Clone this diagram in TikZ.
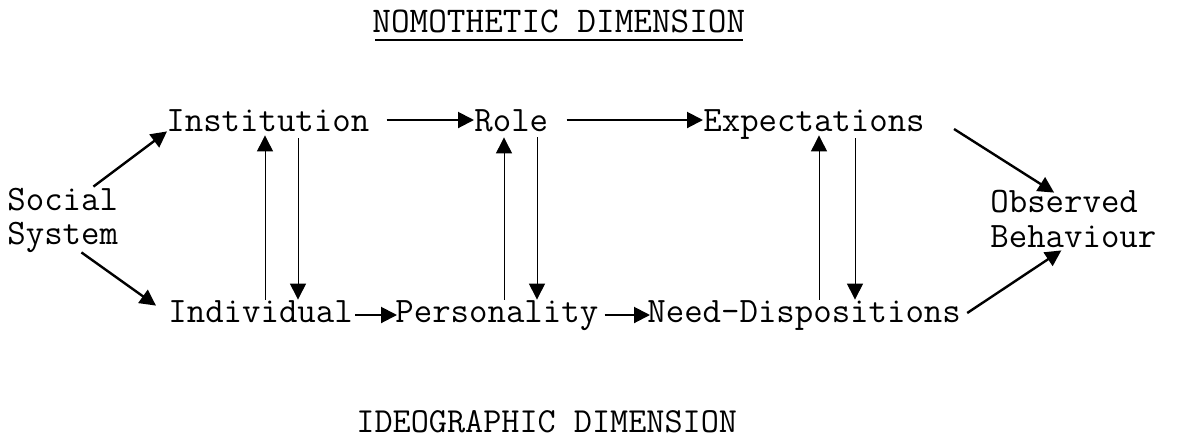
\documentclass[tikz,border=0pt]{standalone}
\usepackage{fontspec}
\usetikzlibrary{arrows.meta,calc}

\begin{document}
\begin{tikzpicture}[x=0.5pt,y=-0.5pt,
  lbl/.style={inner sep=0pt, anchor=base west, text height=11pt, text depth=0pt,
              font=\ttfamily\fontsize{17.9}{18}\selectfont},
  head/.style={-{Triangle[length=8pt,width=8pt]}},
  diag/.style={head, line width=1.2pt},
  horiz/.style={head, line width=1pt},
  vert/.style={head, line width=0.5pt}]

\fill[white] (0,0) rectangle (1180,441);
\useasboundingbox (0,0) rectangle (1180,441);

% headings
\node[lbl, font=\ttfamily\fontsize{18.1}{18}\selectfont] (title) at (372,32) {NOMOTHETIC DIMENSION};
\node[lbl, font=\ttfamily\fontsize{17.6}{18}\selectfont] (ideo)  at (356,432) {IDEOGRAPHIC DIMENSION};
\draw[line width=1pt] ($(title.south west)+(3,8)$) -- ($(title.south east)+(-3,8)$);

% terms
\node[lbl] (soc1)   at (7,210)   {Social};
\node[lbl] (soc2)   at (7,244)   {System};
\node[lbl] (inst)   at (166,131) {Institution};
\node[lbl] (role)   at (474,131) {Role};
\node[lbl] (expect) at (703,131) {Expectations};
\node[lbl] (indiv)  at (168,322) {Individual};
\node[lbl] (pers)   at (395,322) {Personality};
\node[lbl] (need)   at (647,322) {Need-Dispositions};
\node[lbl] (obs1)   at (990,212) {Observed};
\node[lbl] (obs2)   at (990,247) {Behaviour};

% columns of the vertical links
\coordinate (c1u) at (265,0);
\coordinate (c1d) at (298,0);
\coordinate (c2u) at (504,0);
\coordinate (c2d) at (537,0);
\coordinate (c3u) at (819,0);
\coordinate (c3d) at (855,0);

% branches from the social system and into behaviour
\draw[diag] ($(soc1.north east)+(-25,-1)$) -- ($(inst.south west)+(1,0)$);
\draw[diag] ($(soc2.south east)+(-37,8)$) -- ($(indiv.north west)+(-12,6)$);
\draw[diag] ($(expect.east)+(29,9)$) -- ($(obs1.north)+(-10,3)$);
\draw[diag] ($(need.east)+(6,2)$) -- ($(obs2.south)+(-12,3)$);

% nomothetic chain
\draw[horiz] ($(inst.east)+(17,0)$) -- (role.west);
\draw[horiz] ($(role.east)+(18,0)$) -- (expect.west);

% ideographic chain
\draw[horiz] ($(indiv.east)+(2,4)$) -- ($(pers.west)+(2,4)$);
\draw[horiz] ($(pers.east)+(6,4)$) -- ($(need.west)+(3,4)$);

% vertical interplay
\draw[vert, shorten >=2pt]   (indiv.north -| c1u) -- (inst.south -| c1u);
\draw[vert, shorten <=3.5pt] (inst.south -| c1d) -- (indiv.north -| c1d);
\draw[vert, shorten >=3pt]   (pers.north -| c2u) -- (role.south -| c2u);
\draw[vert, shorten <=3pt]   (role.south -| c2d) -- (pers.north -| c2d);
\draw[vert, shorten >=2pt]   (need.north -| c3u) -- (expect.south -| c3u);
\draw[vert, shorten <=3.5pt] (expect.south -| c3d) -- (need.north -| c3d);
\end{tikzpicture}
\end{document}
